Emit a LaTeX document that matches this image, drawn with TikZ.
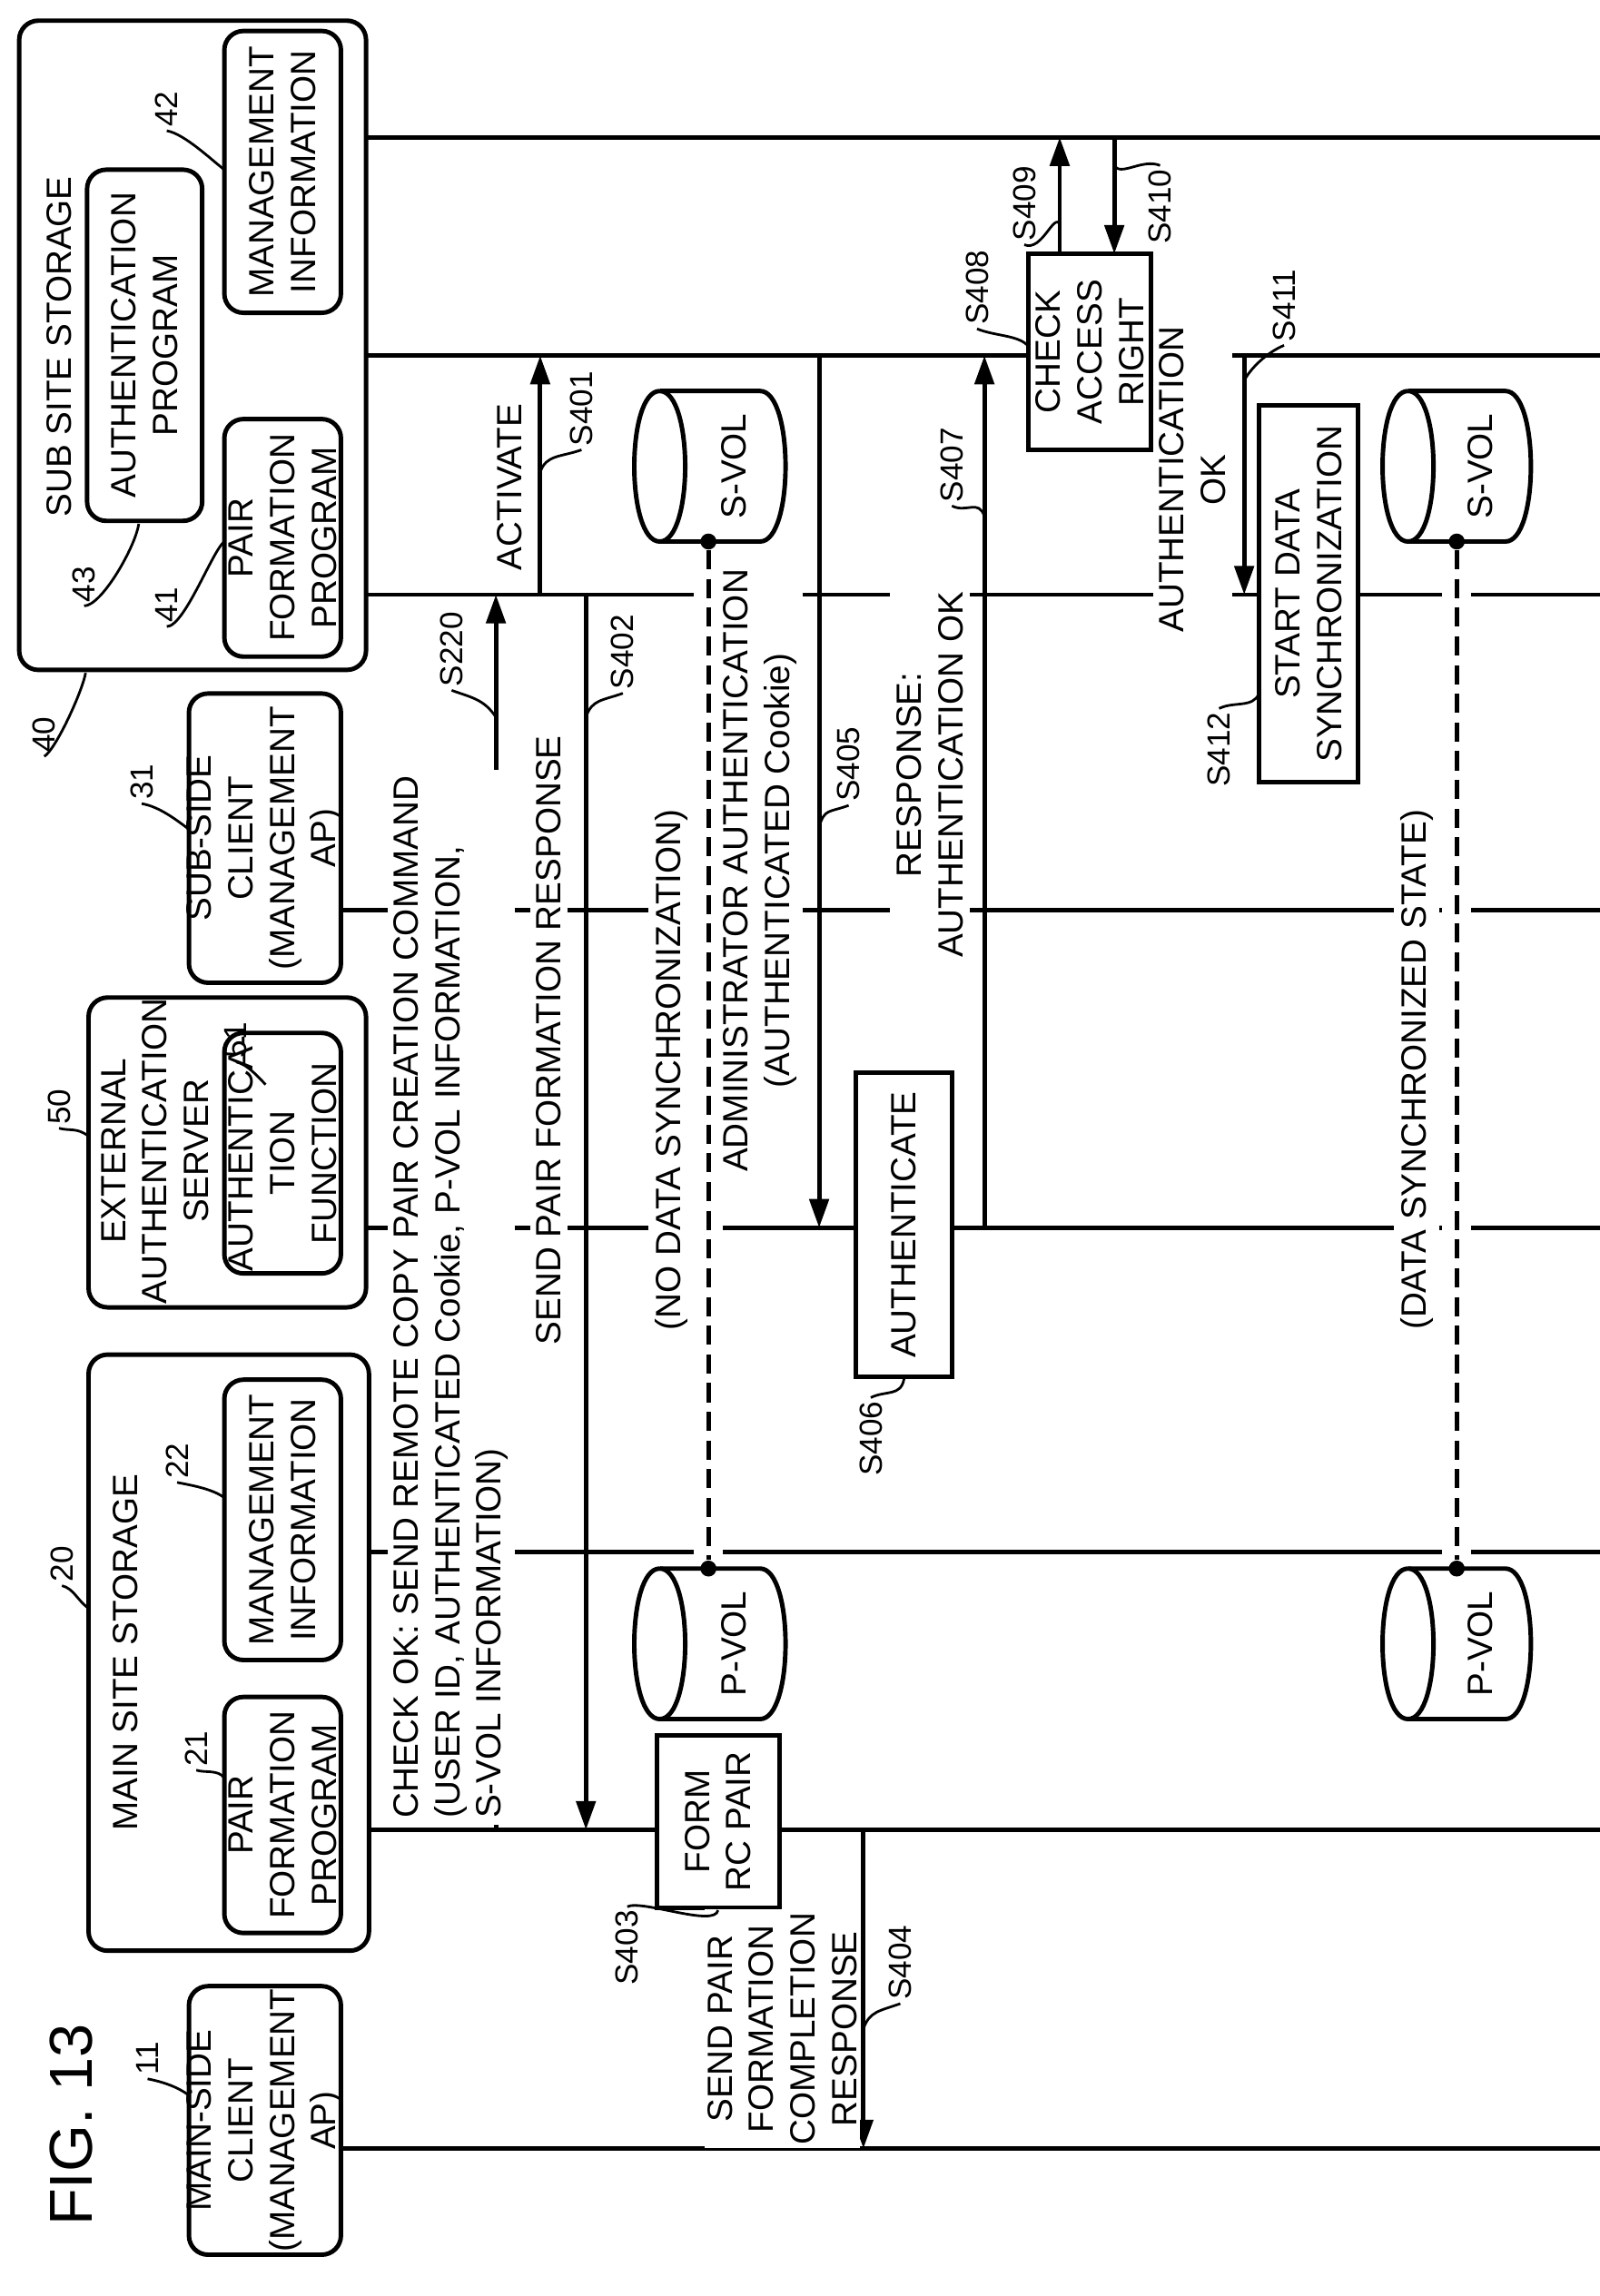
\documentclass[tikz,border=0pt]{standalone}
\usepackage{fontspec}
\setmainfont{Liberation Sans}
\usetikzlibrary{arrows.meta,fit}

\begin{document}
\begin{tikzpicture}[
        x=0.01625cm, y=-0.01625cm,
        font=\fontsize{11}{13}\selectfont,
        box/.style={draw, line width=1.4pt, rounded corners=6pt, fill=white, inner sep=0pt},
        proc/.style={draw, line width=1.4pt, fill=white, inner sep=0pt},
        txt/.style={rotate=90, align=center, inner sep=1pt},
        msg/.style={rotate=90, align=center, fill=white, inner sep=2pt},
        lbl/.style={rotate=90, font=\fontsize{10}{12}\selectfont, inner sep=1pt},
        life/.style={line width=1.4pt},
        arrow/.style={-{Triangle[length=9pt,width=6pt]}, line width=1.4pt},
        callout/.style={line width=0.8pt},
        dot/.style={circle, fill, inner sep=0pt, minimum size=5pt}
    ]
    \useasboundingbox (0,0) rectangle (1084,1556);

    % Lifelines
    \draw[life] (231,93) -- (1084,93);
    \draw[life] (137,241) -- (1084,241);
    \draw[life] (231,403) -- (1084,403);
    \draw[life] (231,617) -- (1084,617);
    \draw[life] (231,832) -- (1084,832);
    \draw[life] (231,1052) -- (1084,1052);
    \draw[life] (231,1240) -- (1084,1240);
    \draw[life] (231,1456) -- (1084,1456);

    % Participants
    \node[box, fit={(13,14) (248,454)}] (subsite) {};
    \node[txt] at (40,235) {SUB SITE STORAGE};
    \node[box, fit={(152,21) (231,212)}] (submgmt) {};
    \node[txt] at (submgmt) {MANAGEMENT\\INFORMATION};
    \node[box, fit={(59,115) (137,353)}] (subauth) {};
    \node[txt] at (subauth) {AUTHENTICATION\\PROGRAM};
    \node[box, fit={(152,284) (231,445)}] (subpair) {};
    \node[txt] at (subpair) {PAIR\\FORMATION\\PROGRAM};

    \node[box, fit={(128,470) (231,666)}] (subclient) {};
    \node[txt] at (subclient) {SUB-SIDE\\CLIENT\\(MANAGEMENT\\AP)};

    \node[box, fit={(60,676) (248,886)}] (extauth) {};
    \node[txt] at (105,780) {EXTERNAL\\AUTHENTICATION\\SERVER};
    \node[box, fit={(152,700) (231,863)}] (authfunc) {};
    \node[txt] at (authfunc) {AUTHENTICA-\\TION\\FUNCTION};

    \node[box, fit={(60,918) (250,1322)}] (mainsite) {};
    \node[txt] at (85,1120) {MAIN SITE STORAGE};
    \node[box, fit={(152,935) (231,1125)}] (mainmgmt) {};
    \node[txt] at (mainmgmt) {MANAGEMENT\\INFORMATION};
    \node[box, fit={(152,1150) (231,1310)}] (mainpair) {};
    \node[txt] at (mainpair) {PAIR\\FORMATION\\PROGRAM};

    \node[box, fit={(128,1346) (231,1528)}] (mainclient) {};
    \node[txt] at (mainclient) {MAIN-SIDE\\CLIENT\\(MANAGEMENT\\AP)};

    \node[rotate=90, font=\fontsize{19}{22}\selectfont] (fig) at (48,1440) {FIG. 13};

    % Reference numerals
    \node[lbl] (n40) at (30,498) {40};
    \draw[callout] (n40.west) .. controls +(8,-5) and +(-2,12) .. (58,456);
    \node[lbl] (n43) at (57,396) {43};
    \draw[callout] (n43.west) .. controls +(12,0) and +(-2,15) .. (94,355);
    \node[lbl] (n42) at (113,74) {42};
    \draw[callout] (n42.west) .. controls +(12,2) and +(-8,-6) .. (152,115);
    \node[lbl] (n41) at (113,410) {41};
    \draw[callout] (n41.west) .. controls +(12,0) and +(-8,6) .. (152,367);
    \node[lbl] (n31) at (96,530) {31};
    \draw[callout] (n31.west) .. controls +(12,2) and +(-8,-6) .. (128,562);
    \node[lbl] (n50) at (40,750) {50};
    \draw[callout] (n50.west) .. controls +(8,2) and +(-8,-6) .. (60,770);
    \node[lbl] (n51) at (160,705) {51};
    \draw[callout] (n51.west) .. controls +(8,2) and +(-6,-6) .. (180,735);
    \node[lbl] (n20) at (42,1060) {20};
    \draw[callout] (n20.west) .. controls +(8,2) and +(-8,-6) .. (60,1090);
    \node[lbl] (n22) at (120,990) {22};
    \draw[callout] (n22.west) .. controls +(10,2) and +(-8,-6) .. (152,1015);
    \node[lbl] (n21) at (133,1185) {21};
    \draw[callout] (n21.west) .. controls +(6,2) and +(-4,-6) .. (152,1205);
    \node[lbl] (n11) at (100,1395) {11};
    \draw[callout] (n11.west) .. controls +(10,2) and +(-8,-6) .. (128,1420);

    % Volumes (no data synchronization)
    \draw[line width=1.4pt, fill=white] (447,265) -- (515,265) .. controls (538,265) and (538,367) .. (515,367) -- (447,367);
    \draw[line width=1.4pt, fill=white] (447,265) .. controls (424,265) and (424,367) .. (447,367) .. controls (470,367) and (470,265) .. (447,265);
    \node[txt] (svol1) at (497,316) {S-VOL};
    \draw[line width=1.4pt, fill=white] (447,1063) -- (515,1063) .. controls (538,1063) and (538,1165) .. (515,1165) -- (447,1165);
    \draw[line width=1.4pt, fill=white] (447,1063) .. controls (424,1063) and (424,1165) .. (447,1165) .. controls (470,1165) and (470,1063) .. (447,1063);
    \node[txt] (pvol1) at (497,1114) {P-VOL};
    \node[dot] (sdot1) at (480,367) {};
    \node[dot] (pdot1) at (480,1063) {};
    \draw[white, line width=9pt] (sdot1) -- (pdot1);
    \draw[line width=1.4pt, dash pattern=on 6pt off 3pt] (sdot1) -- (pdot1);

    % Volumes (data synchronized state)
    \draw[line width=1.4pt, fill=white] (954,265) -- (1020,265) .. controls (1043,265) and (1043,367) .. (1020,367) -- (954,367);
    \draw[line width=1.4pt, fill=white] (954,265) .. controls (931,265) and (931,367) .. (954,367) .. controls (977,367) and (977,265) .. (954,265);
    \node[txt] (svol2) at (1003,316) {S-VOL};
    \draw[line width=1.4pt, fill=white] (954,1063) -- (1020,1063) .. controls (1043,1063) and (1043,1165) .. (1020,1165) -- (954,1165);
    \draw[line width=1.4pt, fill=white] (954,1063) .. controls (931,1063) and (931,1165) .. (954,1165) .. controls (977,1165) and (977,1063) .. (954,1063);
    \node[txt] (pvol2) at (1003,1114) {P-VOL};
    \node[dot] (sdot2) at (987,367) {};
    \node[dot] (pdot2) at (987,1063) {};
    \draw[white, line width=9pt] (sdot2) -- (pdot2);
    \draw[line width=1.4pt, dash pattern=on 6pt off 3pt] (sdot2) -- (pdot2);

    \node[msg] (nosync) at (455,725) {(NO DATA SYNCHRONIZATION)};
    \node[msg] (sync) at (960,725) {(DATA SYNCHRONIZED STATE)};

    % Processing boxes
    \node[proc, fit={(445,1176) (528,1293)}] (formrc) {};
    \node[txt] at (formrc) {FORM\\RC PAIR};
    \node[proc, fit={(580,727) (645,933)}] (authn) {};
    \node[txt] at (authn) {AUTHENTICATE};
    \node[proc, fit={(697,172) (780,305)}] (check) {};
    \node[txt] at (check) {CHECK\\ACCESS\\RIGHT};
    \node[proc, fit={(853,275) (920,530)}] (startsync) {};
    \node[txt] at (startsync) {START DATA\\SYNCHRONIZATION};

    % Messages
    \coordinate (a220s) at (336,1240); \coordinate (a220e) at (336,403);
    \draw[arrow] (a220s) -- (a220e);
    \node[msg, anchor=north west, align=left] (m220) at (262,1237) {CHECK OK: SEND REMOTE COPY PAIR CREATION COMMAND\\(USER ID, AUTHENTICATED Cookie, P-VOL INFORMATION,\\S-VOL INFORMATION)};

    \coordinate (a401s) at (366,403); \coordinate (a401e) at (366,241);
    \draw[arrow] (a401s) -- (a401e);
    \node[msg] (m401) at (345,330) {ACTIVATE};

    \coordinate (a402s) at (397,403); \coordinate (a402e) at (397,1240);
    \draw[arrow] (a402s) -- (a402e);
    \node[msg] (m402) at (372,705) {SEND PAIR FORMATION RESPONSE};

    \coordinate (a404s) at (585,1240); \coordinate (a404e) at (585,1456);
    \draw[arrow] (a404s) -- (a404e);
    \node[msg, inner sep=1pt] (m404) at (530,1375) {SEND PAIR\\FORMATION\\COMPLETION\\RESPONSE};

    \coordinate (a405s) at (555,241); \coordinate (a405e) at (555,832);
    \draw[arrow] (a405s) -- (a405e);
    \node[msg] (m405) at (515,590) {ADMINISTRATOR AUTHENTICATION\\(AUTHENTICATED Cookie)};

    \coordinate (a407s) at (667,832); \coordinate (a407e) at (667,241);
    \draw[arrow] (a407s) -- (a407e);
    \node[msg] (m407) at (630,525) {RESPONSE:\\AUTHENTICATION OK};

    \coordinate (a409s) at (718,172); \coordinate (a409e) at (718,93);
    \draw[arrow] (a409s) -- (a409e);
    \coordinate (a410s) at (755,93); \coordinate (a410e) at (755,172);
    \draw[arrow] (a410s) -- (a410e);

    \coordinate (a411s) at (843,241); \coordinate (a411e) at (843,403);
    \draw[arrow] (a411s) -- (a411e);
    \node[msg] (m411) at (808,325) {AUTHENTICATION\\OK};

    % Step numbers
    \node[lbl] (s220) at (306,440) {S220};
    \draw[callout] (s220.west) .. controls +(14,5) and +(-8,-12) .. (a220s |- 0,486);
    \node[lbl] (s401) at (394,277) {S401};
    \draw[callout] (s401.west) .. controls +(-14,5) and +(4,-12) .. (a401s |- 0,320);
    \node[lbl] (s402) at (422,442) {S402};
    \draw[callout] (s402.west) .. controls +(-14,5) and +(4,-12) .. (a402s |- 0,486);
    \node[lbl] (s403) at (425,1320) {S403};
    \draw[callout] (s403.east) .. controls +(10,-5) and +(-2,12) .. (formrc.south);
    \node[lbl] (s404) at (610,1330) {S404};
    \draw[callout] (s404.west) .. controls +(-14,5) and +(4,-12) .. (a404s |- 0,1375);
    \node[lbl] (s405) at (575,518) {S405};
    \draw[callout] (s405.west) .. controls +(-14,5) and +(4,-12) .. (a405s |- 0,560);
    \node[lbl] (s406) at (590,975) {S406};
    \draw[callout] (s406.east) .. controls +(10,-5) and +(-2,12) .. (authn.south);
    \node[lbl] (s407) at (645,315) {S407};
    \draw[callout] (s407.west) .. controls +(10,5) and +(-4,-12) .. (a407s |- 0,350);
    \node[lbl] (s408) at (662,195) {S408};
    \draw[callout] (s408.west) .. controls +(12,5) and +(-6,-8) .. (697,235);
    \node[lbl] (s409) at (694,138) {S409};
    \draw[callout] (s409.west) .. controls +(12,5) and +(-4,-8) .. (a409s |- 0,152);
    \node[lbl] (s410) at (786,140) {S410};
    \draw[callout] (s410.east) .. controls +(-12,-5) and +(4,8) .. (a410s |- 0,112);
    \node[lbl] (s411) at (870,207) {S411};
    \draw[callout] (s411.west) .. controls +(-12,5) and +(4,-8) .. (a411s |- 0,258);
    \node[lbl] (s412) at (826,508) {S412};
    \draw[callout] (s412.east) .. controls +(10,-5) and +(-4,10) .. (853,470);
\end{tikzpicture}
\end{document}
